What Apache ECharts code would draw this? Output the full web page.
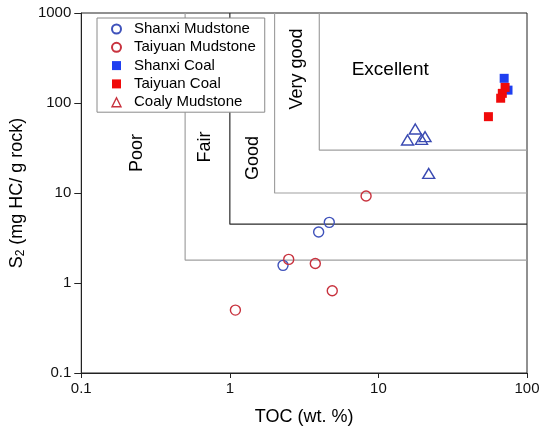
<!DOCTYPE html>
<html>
<head>
<meta charset="utf-8">
<script src="https://cdn.jsdelivr.net/npm/echarts@6/dist/echarts.min.js"></script>
<style>
html,body{margin:0;padding:0;background:#fff;}
#chart{width:544px;height:434px;}
</style>
</head>
<body>
<div id="chart"></div>
<script>
// ---- data (TOC wt.%, S2 mg HC/g rock) ----
var shanxiMudstone = [[2.28, 1.57], [3.96, 3.69], [4.67, 4.72]];
var taiyuanMudstone = [[1.09, 0.50], [2.49, 1.83], [3.76, 1.65], [4.89, 0.82], [8.26, 9.26]];
var shanxiCoal = [[70.2, 188], [74.5, 139]];
var taiyuanCoal = [[71.2, 149], [68.2, 128], [66.5, 113], [55, 70.5]];
var coalyMudstone = [[17.7, 51.4], [15.7, 38.8], [19.5, 39.5], [20.6, 42.2], [21.8, 16.5]];
// classification boundaries
var boundaryTOC = [0.5, 1, 2, 4];
var boundaryS2 = [1.8, 4.5, 10, 30];
var classNames = ['Poor', 'Fair', 'Good', 'Very good', 'Excellent'];
var xTicks = [0.1, 1, 10, 100];
var yTicks = [0.1, 1, 10, 100, 1000];
var seriesNames = ['Shanxi Mudstone', 'Taiyuan Mudstone', 'Shanxi Coal', 'Taiyuan Coal', 'Coaly Mudstone'];

var FONT = "'Liberation Sans', Arial, Helvetica, sans-serif";
var chart = echarts.init(document.getElementById('chart'), null, {renderer: 'canvas'});

var blueC = '#3f52bb', redC = '#c8323e', blueS = '#1f3ff0', redS = '#f00a0a', blueT = '#3a4ab2';
var lineColors = ['#a0a0a0', '#2a2a2a', '#a0a0a0', '#a0a0a0'];

var series = [];
boundaryTOC.forEach(function (bx, i) {
  series.push({
    type: 'line', silent: true, symbol: 'none', animation: false, z: 1,
    lineStyle: {color: lineColors[i], width: 1.2, opacity: 1},
    data: [[bx, 1000], [bx, boundaryS2[i]], [100, boundaryS2[i]]]
  });
});

// class labels placed in data coordinates
var labelAnchors = [[0.237, 27.8, 90, 18], [0.68, 32.5, 90, 18], [1.43, 24.5, 90, 18], [2.82, 239, 90, 18], [12.0, 233, 0, 19]];
series.push({
  type: 'scatter', silent: true, symbolSize: 0, z: 2, itemStyle: {opacity: 1},
  data: classNames.map(function (n, i) {
    var a = labelAnchors[i];
    return {value: [a[0], a[1]], name: n,
      label: {show: true, formatter: n, position: 'inside', rotate: a[2], fontSize: a[3], color: '#000', opacity: 1, fontFamily: FONT}};
  })
});

var hollow = function (c) { return {color: 'rgba(255,255,255,0)', borderColor: c, borderWidth: 1.4, opacity: 1}; };
series.push({name: seriesNames[0], type: 'scatter', symbol: 'circle', symbolSize: 10, itemStyle: hollow(blueC), data: shanxiMudstone, z: 5});
series.push({name: seriesNames[1], type: 'scatter', symbol: 'circle', symbolSize: 10, itemStyle: hollow(redC), data: taiyuanMudstone, z: 5});
series.push({name: seriesNames[2], type: 'scatter', symbol: 'rect', symbolSize: 9, itemStyle: {color: blueS, opacity: 1}, data: shanxiCoal, z: 5});
series.push({name: seriesNames[3], type: 'scatter', symbol: 'rect', symbolSize: 9, itemStyle: {color: redS, opacity: 1}, data: taiyuanCoal, z: 6});
series.push({name: seriesNames[4], type: 'scatter', symbol: 'triangle', symbolSize: [12, 10], itemStyle: hollow(blueT), data: coalyMudstone, z: 5});

var fmt = function (v) { return String(+(+v).toPrecision(3)); };

chart.setOption({
  animation: false,
  textStyle: {fontFamily: FONT},
  grid: {left: 81, right: 17, top: 13, bottom: 61, show: true, borderColor: '#222', borderWidth: 1, backgroundColor: 'transparent'},
  legend: {
    orient: 'vertical', left: 97, top: 18,
    padding: [2, 9, 1, 14], itemGap: 0.3, itemWidth: 9, itemHeight: 9,
    backgroundColor: '#fff', borderColor: '#8a8a8a', borderWidth: 1,
    textStyle: {fontSize: 15, color: '#000', lineHeight: 18, padding: [0, 0, 0, 8], fontFamily: FONT},
    selectedMode: false,
    data: [
      {name: seriesNames[0]}, {name: seriesNames[1]},
      {name: seriesNames[2], itemStyle: {color: blueS}},
      {name: seriesNames[3], itemStyle: {color: redS}},
      {name: seriesNames[4], itemStyle: {color: 'rgba(255,255,255,0)', borderColor: redC, borderWidth: 1.4}}
    ],
    z: 10
  },
  xAxis: {
    type: 'log', logBase: 10, min: xTicks[0], max: xTicks[xTicks.length - 1],
    name: 'TOC (wt. %)', nameLocation: 'middle', nameGap: 35,
    nameTextStyle: {fontSize: 18, color: '#000', fontFamily: FONT},
    axisLine: {lineStyle: {color: '#222', width: 1}},
    axisTick: {show: true, length: 5, lineStyle: {color: '#222'}},
    axisLabel: {fontSize: 15, color: '#111', margin: 8, formatter: fmt, fontFamily: FONT},
    splitLine: {show: false}, minorTick: {show: false}
  },
  yAxis: {
    type: 'log', logBase: 10, min: yTicks[0], max: yTicks[yTicks.length - 1],
    name: '{s|S}{sub|2}{s| (mg HC/ g rock)}', nameLocation: 'middle', nameGap: 50, nameRotate: 90,
    nameTextStyle: {fontSize: 18, color: '#000', fontFamily: FONT,
      rich: {s: {fontSize: 18, color: '#000', fontFamily: FONT}, sub: {fontSize: 12, color: '#000', verticalAlign: 'bottom', padding: [8, 0, 0, 0], fontFamily: FONT}}},
    axisLine: {lineStyle: {color: '#222', width: 1}},
    axisTick: {show: true, length: 7, lineStyle: {color: '#222'}},
    axisLabel: {fontSize: 15, color: '#111', margin: 10, formatter: fmt, fontFamily: FONT},
    splitLine: {show: false}, minorTick: {show: false}
  },
  series: series
});
</script>
</body>
</html>
